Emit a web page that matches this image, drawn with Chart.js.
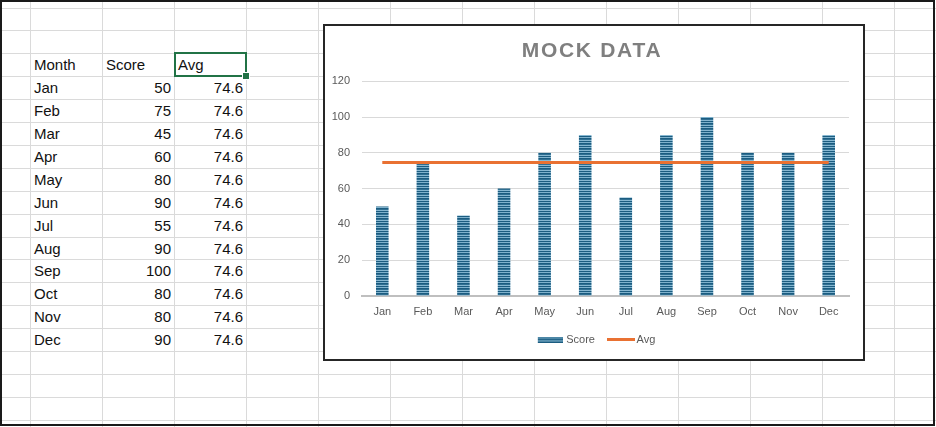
<!DOCTYPE html>
<html>
<head>
<meta charset="utf-8">
<script src="https://cdn.jsdelivr.net/npm/chart.js@4.4.1/dist/chart.umd.min.js"></script>
<style>
  html, body { margin: 0; padding: 0; background: #fff; }
  #sheet { position: relative; width: 936px; height: 427px; overflow: hidden; background: #fff;
           font-family: 'Liberation Sans', Arial, sans-serif; }
  .vline { position: absolute; top: 0; width: 1px; height: 427px; background: #dadada; }
  .hline { position: absolute; left: 0; height: 1px; width: 936px; background: #dadada; }
  .cell { position: absolute; height: 23px; line-height: 23px; font-size: 15px; color: #111;
          white-space: nowrap; box-sizing: border-box; }
  .cell.txt { padding-left: 4px; }
  .cell.num { text-align: right; padding-right: 3px; }
  #selected { position: absolute; left: 174px; top: 52px; width: 73px; height: 25px;
              border: 2px solid #217346; box-sizing: border-box; }
  #handle { position: absolute; left: 243px; top: 73px; width: 6px; height: 6px; background: #217346;
            border: 1px solid #fff; box-sizing: content-box; margin: -1px 0 0 -1px; }
  #chartBox { position: absolute; left: 323px; top: 24px; width: 542px; height: 337px;
              border: 2px solid #262626; box-sizing: border-box; background: #fff; }
  #frame { position: absolute; left: 0; top: 0; width: 935px; height: 426px;
           border: 2px solid #1a1a1a; box-sizing: border-box; pointer-events: none; }
</style>
</head>
<body>
<div id="sheet">
  <div id="grid"></div>
  <div id="cells"></div>
  <div id="selected"></div>
  <div id="handle"></div>
  <div id="chartBox"><canvas id="scoreChart" width="538" height="333"></canvas></div>
  <div id="frame"></div>
</div>
<script>
// data read from the sheet
const months = ['Jan', 'Feb', 'Mar', 'Apr', 'May', 'Jun', 'Jul', 'Aug', 'Sep', 'Oct', 'Nov', 'Dec'];
const scores = [50, 75, 45, 60, 80, 90, 55, 90, 100, 80, 80, 90];
const avgValues = [74.6, 74.6, 74.6, 74.6, 74.6, 74.6, 74.6, 74.6, 74.6, 74.6, 74.6, 74.6];
const headers = ['Month', 'Score', 'Avg'];
const yTicks = [0, 20, 40, 60, 80, 100, 120];

// spreadsheet grid
const grid = document.getElementById('grid');
for (let x = 30; x < 936; x += 72) {
    let d = document.createElement('div');
    d.className = 'vline';
    d.style.left = x + 'px';
    grid.appendChild(d);
}
for (let k = 0; k < 19; k++) {
    let d = document.createElement('div');
    d.className = 'hline';
    d.style.top = Math.round(7.5 + 22.9 * k) + 'px';
    grid.appendChild(d);
}

// cells
const cells = document.getElementById('cells');
function addCell(text, col, row, isNum) {
    let c = document.createElement('div');
    c.className = 'cell ' + (isNum ? 'num' : 'txt');
    c.style.left = (30 + 72 * col) + 'px';
    c.style.width = '72px';
    c.style.top = Math.round(7.5 + 22.9 * (2 + row)) + 'px';
    c.textContent = text;
    cells.appendChild(c);
}
headers.forEach((h, i) => addCell(h, i, 0, false));
months.forEach((m, i) => {
    addCell(m, 0, i + 1, false);
    addCell(String(scores[i]), 1, i + 1, true);
    addCell(avgValues[i].toFixed(1), 2, i + 1, true);
});

// striped fill like the Excel "narrow horizontal" pattern
function makeStripes() {
    const c = document.createElement('canvas');
    c.width = 4; c.height = 5;
    const g = c.getContext('2d');
    const rows = ['#1b5c80', '#7fb2cd', '#1b5c80', '#2f6f92', '#86b7d1'];
    rows.forEach((col, i) => { g.fillStyle = col; g.fillRect(0, i, 4, 1); });
    return c;
}
const ctx = document.getElementById('scoreChart').getContext('2d');
const stripes = ctx.createPattern(makeStripes(), 'repeat');

// legend swatches (wider than the box so the text sits close, like Excel)
const scoreSwatch = document.createElement('canvas');
scoreSwatch.width = 30; scoreSwatch.height = 6;
(function() {
    const g = scoreSwatch.getContext('2d');
    g.fillStyle = g.createPattern(makeStripes(), 'repeat');
    g.fillRect(5, 0, 25, 6);
})();
const avgSwatch = document.createElement('canvas');
avgSwatch.width = 34; avgSwatch.height = 3;
(function() {
    const g = avgSwatch.getContext('2d');
    g.fillStyle = '#e97132';
    g.fillRect(6, 0, 28, 3);
})();

// nudge title / legend and space the title letters
function wrapDraw(chart, block, dx, spacing) {
    if (!block || block._wrapped) return;
    const draw = block.draw.bind(block);
    block.draw = function(area) {
        chart.ctx.save();
        chart.ctx.translate(dx, 0);
        if (spacing) chart.ctx.letterSpacing = spacing;
        draw(area);
        chart.ctx.restore();
    };
    block._wrapped = true;
}
const boxNudge = {
    id: 'boxNudge',
    beforeDraw(chart) {
        wrapDraw(chart, chart.titleBlock, 5, '1.7px');
        wrapDraw(chart, chart.legend, 8, null);
    }
};

const scoreChart = new Chart(ctx, {
    type: 'bar',
    data: {
        labels: months,
        datasets: [{
            label: 'Score',
            data: scores,
            backgroundColor: stripes,
            borderWidth: 0,
            barPercentage: 0.31,
            categoryPercentage: 1,
            order: 1
        }, {
            type: 'line',
            label: 'Avg',
            data: avgValues,
            borderColor: '#e97132',
            backgroundColor: '#e97132',
            borderWidth: 3,
            borderCapStyle: 'butt',
            pointRadius: 0,
            tension: 0,
            order: 0
        }]
    },
    plugins: [boxNudge],
    options: {
        responsive: false,
        animation: false,
        layout: { padding: { left: 0, right: 14, top: 0, bottom: 4 } },
        font: { family: "'Liberation Sans', Arial, sans-serif" },
        plugins: {
            title: {
                display: true,
                text: 'MOCK DATA',
                color: '#7f7f7f',
                font: { size: 21, weight: 'bold' },
                padding: { top: 13, bottom: 17 }
            },
            legend: {
                position: 'bottom',
                labels: {
                    usePointStyle: true,
                    pointStyleWidth: 26,
                    boxHeight: 6,
                    padding: 10,
                    color: '#595959',
                    font: { size: 11 },
                    generateLabels: () => [
                        { text: 'Score', pointStyle: scoreSwatch, fontColor: '#595959', datasetIndex: 0, lineWidth: 0 },
                        { text: 'Avg', pointStyle: avgSwatch, fontColor: '#595959', datasetIndex: 1, lineWidth: 0 }
                    ]
                }
            },
            tooltip: { enabled: false }
        },
        scales: {
            x: {
                grid: { display: false, drawTicks: false },
                border: { color: '#bfbfbf', width: 2 },
                ticks: { color: '#595959', font: { size: 11 }, padding: 9, maxRotation: 0 },
                afterFit: (scale) => { scale.height = 28; }
            },
            y: {
                min: 0,
                max: 120,
                afterBuildTicks: (scale) => { scale.ticks = yTicks.map(v => ({ value: v })); },
                grid: { color: '#d9d9d9', lineWidth: 1, drawTicks: false },
                border: { display: false },
                ticks: { color: '#595959', font: { size: 11 }, padding: 12 },
                afterFit: (scale) => { scale.width = 37; }
            }
        }
    }
});
</script>
</body>
</html>
